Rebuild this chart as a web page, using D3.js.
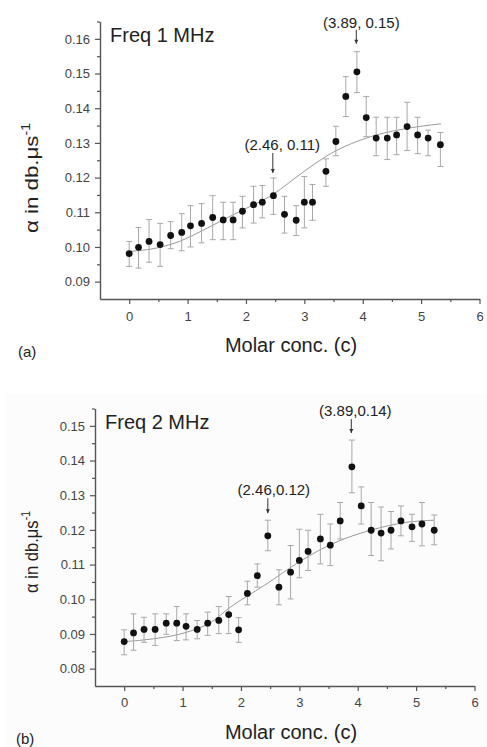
<!DOCTYPE html>
<html>
<head>
<meta charset="utf-8">
<script src="https://cdn.jsdelivr.net/npm/d3@7"></script>
<style>
  body { margin: 0; background: #fff; }
  text { font-family: "Liberation Sans", Arial, sans-serif; }
</style>
</head>
<body>
<div id="chart"></div>
<script>
// panel (a) : 1 MHz
const concA = [0, 0.16, 0.34, 0.53, 0.71, 0.90, 1.05, 1.24, 1.43, 1.61, 1.78, 1.94, 2.13, 2.28, 2.47, 2.66,
    2.86, 3.00, 3.14, 3.37, 3.54, 3.71, 3.90, 4.06, 4.23, 4.42, 4.58, 4.76, 4.94, 5.12, 5.33];
const alphaA = [0.0981, 0.0999, 0.1016, 0.1007, 0.1033, 0.1042, 0.1061, 0.1068, 0.1085, 0.1078, 0.1078,
    0.1103, 0.1122, 0.1129, 0.1148, 0.1094, 0.1077, 0.1129, 0.1129, 0.1218, 0.1304, 0.1434, 0.1505,
    0.1373, 0.1314, 0.1314, 0.1323, 0.1347, 0.1323, 0.1314, 0.1295];
const errHiA = [0.1016, 0.1056, 0.1079, 0.1068, 0.1073, 0.1096, 0.1119, 0.1125, 0.1148, 0.1129, 0.1129,
    0.1146, 0.1175, 0.1177, 0.1199, 0.1146, 0.1119, 0.1203, 0.1180, 0.1254, 0.1348, 0.1491, 0.1563,
    0.1434, 0.1374, 0.1374, 0.1374, 0.1417, 0.1374, 0.1337, 0.1330];
const errLoA = [0.0944, 0.0939, 0.0956, 0.0944, 0.0995, 0.0989, 0.1000, 0.1012, 0.1021, 0.1021, 0.1021,
    0.1055, 0.1069, 0.1084, 0.1094, 0.1040, 0.1033, 0.1055, 0.1077, 0.1175, 0.1263, 0.1376, 0.1445,
    0.1318, 0.1263, 0.1252, 0.1266, 0.1278, 0.1269, 0.1263, 0.1232];
const fitXA = [0, 0.5, 0.86, 1.4, 1.89, 2.4, 3.03, 3.37, 4.06, 4.7, 5.34];
const fitYA = [0.0987, 0.0998, 0.1016, 0.1060, 0.1102, 0.1145, 0.1222, 0.1261, 0.1314, 0.1340, 0.1355];
const notesA = [
    {label: '(3.89, 0.15)', x: 3.89, y: 0.1563, gap: 8, len: 14, lift: 16, dx: 5},
    {label: '(2.46, 0.11)', x: 2.46, y: 0.1199, gap: 5, len: 20, lift: 23, dx: 9.5}
];

// panel (b) : 2 MHz
const concB = [0, 0.16, 0.34, 0.53, 0.72, 0.90, 1.06, 1.25, 1.43, 1.62, 1.79, 1.96, 2.11, 2.28, 2.46, 2.65,
    2.85, 3.00, 3.15, 3.36, 3.53, 3.70, 3.90, 4.06, 4.23, 4.40, 4.57, 4.74, 4.93, 5.10, 5.31];
const alphaB = [0.0878, 0.0903, 0.0913, 0.0913, 0.0931, 0.0931, 0.0922, 0.0913, 0.0931, 0.0939, 0.0956,
    0.0912, 0.1017, 0.1068, 0.1183, 0.1035, 0.1078, 0.1112, 0.1138, 0.1174, 0.1156, 0.1226, 0.1382,
    0.1269, 0.1199, 0.1191, 0.1199, 0.1226, 0.1209, 0.1217, 0.1199];
const errHiB = [0.0912, 0.0958, 0.0948, 0.0958, 0.0958, 0.0979, 0.0958, 0.0939, 0.0963, 0.0979, 0.1008,
    0.0947, 0.1052, 0.1102, 0.1228, 0.1085, 0.1155, 0.1202, 0.1199, 0.1245, 0.1217, 0.1279, 0.1459,
    0.1324, 0.1279, 0.1266, 0.1253, 0.1269, 0.1245, 0.1279, 0.1243];
const errLoB = [0.0840, 0.0853, 0.0876, 0.0867, 0.0899, 0.0881, 0.0883, 0.0886, 0.0896, 0.0901, 0.0901,
    0.0876, 0.0984, 0.1035, 0.1140, 0.0984, 0.1001, 0.1062, 0.1083, 0.1102, 0.1097, 0.1174, 0.1307,
    0.1217, 0.1126, 0.1111, 0.1145, 0.1183, 0.1167, 0.1154, 0.1157];
const fitXB = [0, 0.5, 1.07, 1.5, 1.8, 2.4, 3.02, 3.5, 4.22, 4.84, 5.31];
const fitYB = [0.0878, 0.0886, 0.0905, 0.0935, 0.0975, 0.1040, 0.1110, 0.1155, 0.1199, 0.1222, 0.1228];
const notesB = [
    {label: '(3.89,0.14)', x: 3.89, y: 0.1459, gap: 7, len: 14, lift: 17, dx: 4},
    {label: '(2.46,0.12)', x: 2.46, y: 0.1228, gap: 7, len: 15, lift: 18, dx: 6}
];

const xTicks = [0, 1, 2, 3, 4, 5, 6];

const W = 487, H = 747;
const svg = d3.select('#chart').append('svg')
    .attr('width', W).attr('height', H);

// very faint grey backing of the lower scan
svg.append('rect').attr('x', 6).attr('y', 394).attr('width', W - 6).attr('height', H - 394)
    .attr('fill', '#fcfcfc');

function drawPanel(p) {
    const x = d3.scaleLinear().domain([-0.5, 6]).range([p.left, p.left + 379.5]);
    const y = d3.scaleLinear().domain(p.yDomain).range([p.bottom, p.bottom - 277.5]);
    const g = svg.append('g');

    const yMajor = d3.range(p.yDomain[0] + 0.005, p.yDomain[1], 0.01);
    const yMinor = d3.range(p.yDomain[0] + 0.01, p.yDomain[1], 0.01);

    // minor ticks
    g.append('g').attr('transform', `translate(${p.left},0)`)
        .call(d3.axisLeft(y).tickValues(yMinor).tickSize(3).tickFormat(''))
        .call(a => a.select('.domain').remove());
    g.append('g').attr('transform', `translate(0,${p.bottom})`)
        .call(d3.axisBottom(x).tickValues([0.5, 1.5, 2.5, 3.5, 4.5, 5.5]).tickSize(3).tickFormat(''))
        .call(a => a.select('.domain').remove());

    const yAx = g.append('g').attr('transform', `translate(${p.left},0)`)
        .call(d3.axisLeft(y).tickValues(yMajor).tickSize(5).tickSizeOuter(0).tickPadding(5)
            .tickFormat(d3.format('.2f')));
    const xAx = g.append('g').attr('transform', `translate(0,${p.bottom})`)
        .call(d3.axisBottom(x).tickValues(xTicks).tickSize(5).tickSizeOuter(0).tickPadding(p.xPad)
            .tickFormat(d3.format('d')));
    [yAx, xAx].forEach(a => {
        a.selectAll('text').attr('font-size', 13).attr('fill', '#444')
            .attr('font-family', '"Liberation Sans", Arial, sans-serif');
    });
    g.selectAll('.domain').attr('stroke', '#555').attr('stroke-width', 1.4);
    g.selectAll('.tick line').attr('stroke', '#555').attr('stroke-width', 1.2);

    // fit curve
    const line = d3.line().x(d => x(d[0])).y(d => y(d[1])).curve(d3.curveMonotoneX);
    g.append('path').datum(d3.zip(p.fitX, p.fitY)).attr('d', line)
        .attr('fill', 'none').attr('stroke', '#9a9a9a').attr('stroke-width', 1);

    const pts = p.conc.map((c, i) => ({c, v: p.alpha[i], hi: p.hi[i], lo: p.lo[i]}));
    const eb = g.append('g').attr('stroke', '#a8a8a8').attr('stroke-width', 1);
    pts.forEach(d => {
        const cx = x(d.c);
        eb.append('line').attr('x1', cx).attr('x2', cx).attr('y1', y(d.hi)).attr('y2', y(d.lo));
        eb.append('line').attr('x1', cx - 3).attr('x2', cx + 3).attr('y1', y(d.hi)).attr('y2', y(d.hi));
        eb.append('line').attr('x1', cx - 3).attr('x2', cx + 3).attr('y1', y(d.lo)).attr('y2', y(d.lo));
    });
    g.selectAll('circle.pt').data(pts).enter().append('circle')
        .attr('cx', d => x(d.c)).attr('cy', d => y(d.v)).attr('r', 3.4).attr('fill', '#111');

    // annotations with arrows
    p.notes.forEach(n => {
        const ax = x(n.x), tip = y(n.y) - n.gap;
        g.append('line').attr('x1', ax).attr('x2', ax).attr('y1', tip - n.len).attr('y2', tip)
            .attr('stroke', '#333').attr('stroke-width', 1);
        g.append('path').attr('d', `M${ax - 2},${tip - 4}L${ax + 2},${tip - 4}L${ax},${tip}Z`).attr('fill', '#333');
        g.append('text').attr('x', ax + n.dx).attr('y', tip - n.lift).attr('text-anchor', 'middle')
            .attr('font-size', 15).attr('fill', '#222').text(n.label);
    });

    // titles
    g.append('text').attr('x', p.left + 10).attr('y', p.bottom - 257).attr('font-size', 20)
        .attr('fill', '#222').text(p.title);
    g.append('text').attr('x', 291).attr('y', p.bottom + 53).attr('text-anchor', 'middle')
        .attr('font-size', 20).attr('fill', '#222').text('Molar conc. (c)');
    const yt = g.append('text').attr('transform', `translate(38,${p.yMid}) rotate(-90)`)
        .attr('text-anchor', 'middle').attr('font-size', 19).attr('fill', '#222')
        .attr('textLength', p.yLen).attr('lengthAdjust', 'spacingAndGlyphs');
    yt.append('tspan').text('α in db.μs');
    yt.append('tspan').attr('font-size', 12).attr('dy', -8).text('-1');
    g.append('text').attr('x', p.tagX).attr('y', p.bottom + p.tagDy).attr('font-size', 15)
        .attr('fill', '#222').text(p.tag);
}

drawPanel({
    left: 100, bottom: 299, yDomain: [0.085, 0.165], xPad: 8,
    conc: concA, alpha: alphaA, hi: errHiA, lo: errLoA, fitX: fitXA, fitY: fitYA, notes: notesA,
    title: 'Freq 1 MHz', tag: '(a)', tagX: 18, tagDy: 58, yMid: 178, yLen: 110
});
drawPanel({
    left: 95, bottom: 686, yDomain: [0.075, 0.155], xPad: 7,
    conc: concB, alpha: alphaB, hi: errHiB, lo: errLoB, fitX: fitXB, fitY: fitYB, notes: notesB,
    title: 'Freq 2 MHz', tag: '(b)', tagX: 16, tagDy: 58, yMid: 552, yLen: 82
});
</script>
</body>
</html>
